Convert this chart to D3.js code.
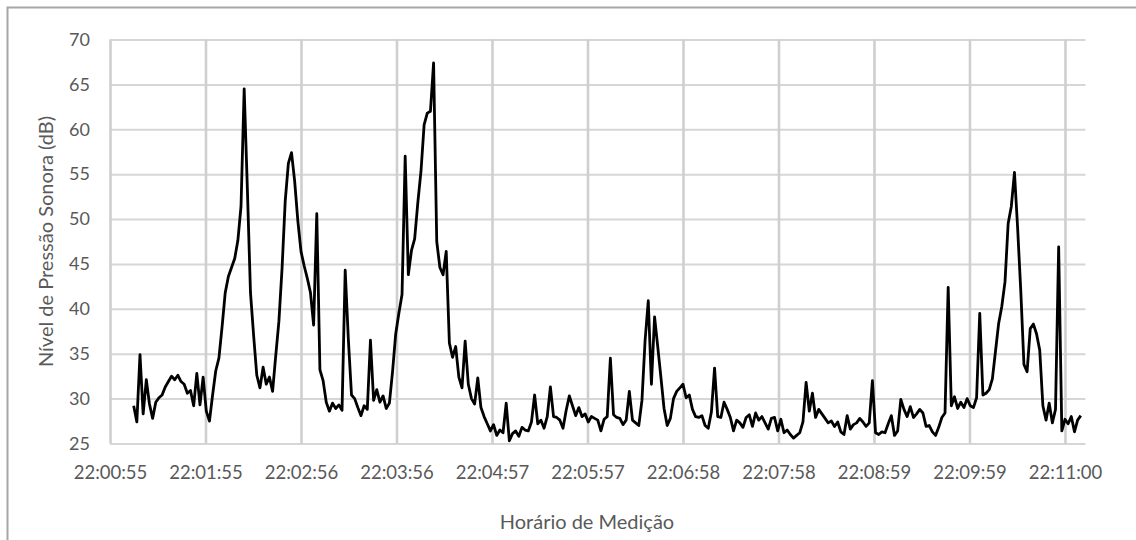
<!DOCTYPE html>
<html>
<head>
<meta charset="utf-8">
<script src="https://cdn.jsdelivr.net/npm/d3@7"></script>
<style>
  html, body { margin: 0; padding: 0; background: #fff; }
  svg { display: block; }
  text { font-family: Lato, "Open Sans", sans-serif; fill: #595959; }
</style>
</head>
<body>
<svg id="chart" width="1136" height="540"></svg>
<script>
// Sound pressure level readings, one every 2 s, starting 15 s after 22:00:55
const startClock = "22:00:55";
const firstOffsetSec = 15;
const sampleStepSec = 2;
const levelDb = [
  29.2, 27.4, 34.9, 28.3, 32.1, 29.4, 27.8, 29.6, 30.1, 30.4,
  31.3, 31.9, 32.5, 32.1, 32.6, 31.9, 31.6, 30.6, 30.9, 29.2,
  32.8, 29.3, 32.4, 28.6, 27.5, 30.4, 33.1, 34.5, 38.0, 41.8,
  43.6, 44.6, 45.6, 47.6, 51.4, 64.5, 53.5, 41.8, 37.0, 32.6,
  31.2, 33.5, 31.6, 32.4, 30.8, 34.8, 38.6, 44.5, 52.0, 56.2,
  57.4, 54.2, 49.8, 46.4, 44.8, 43.4, 41.8, 38.2, 50.6, 33.2,
  32.0, 29.6, 28.6, 29.5, 28.9, 29.3, 28.7, 44.3, 36.6, 30.4,
  30.0, 29.0, 28.1, 29.2, 28.8, 36.5, 29.8, 31.0, 29.6, 30.3,
  28.9, 29.5, 33.0, 37.2, 39.5, 41.6, 57.0, 43.8, 46.5, 47.8,
  51.8, 55.3, 60.5, 61.8, 62.0, 67.4, 47.5, 44.6, 43.8, 46.4,
  36.2, 34.6, 35.8, 32.4, 31.2, 36.4, 31.6, 30.0, 29.4, 32.3,
  29.0, 28.0, 27.2, 26.4, 27.1, 25.9, 26.5, 26.2, 29.5, 25.3,
  26.1, 26.4, 25.8, 26.8, 26.5, 26.4, 27.4, 30.4, 27.2, 27.6,
  26.7, 28.0, 31.3, 28.0, 27.9, 27.6, 26.7, 28.7, 30.3, 29.2,
  28.1, 29.0, 28.0, 28.3, 27.4, 28.0, 27.8, 27.6, 26.4, 27.7,
  28.0, 34.5, 28.2, 27.9, 27.8, 27.1, 27.6, 30.8, 27.6, 27.3,
  27.0, 29.8, 36.5, 40.9, 31.6, 39.1, 35.8, 32.4, 28.9, 27.0,
  27.8, 30.0, 30.8, 31.2, 31.6, 30.1, 30.4, 28.8, 28.0, 27.9,
  28.1, 27.0, 26.7, 28.5, 33.4, 28.0, 27.9, 29.6, 28.8, 27.9,
  26.4, 27.6, 27.3, 26.8, 27.9, 28.2, 26.9, 28.4, 27.6, 28.0,
  27.3, 26.6, 27.8, 27.9, 26.4, 27.7, 26.2, 26.5, 26.0, 25.6,
  25.9, 26.2, 27.4, 31.8, 28.6, 30.6, 27.9, 28.8, 28.3, 27.8,
  27.3, 27.5, 26.9, 27.4, 26.3, 26.0, 28.1, 26.6, 27.1, 27.3,
  27.8, 27.4, 26.9, 27.3, 32.0, 26.2, 26.0, 26.3, 26.2, 27.2,
  28.1, 25.9, 26.4, 29.9, 28.8, 28.0, 29.1, 27.9, 28.3, 28.8,
  28.4, 26.9, 27.0, 26.3, 25.9, 26.8, 27.9, 28.4, 42.4, 29.2,
  30.2, 28.9, 29.6, 29.0, 30.0, 29.2, 29.0, 30.1, 39.5, 30.4,
  30.6, 31.0, 32.2, 35.3, 38.4, 40.3, 43.0, 49.5, 51.4, 55.2,
  49.0, 42.0, 33.8, 33.0, 37.8, 38.3, 37.2, 35.4, 29.2, 27.6,
  29.5, 27.3, 28.8, 46.9, 26.4, 27.7, 27.2, 28.0, 26.3, 27.6, 28.1
];

// Category-axis labels (seconds after the start clock, and their text)
const xTickSeconds = [0, 60.5, 121, 181.5, 242, 302.5, 363, 423.5, 484, 544.5, 605];
const xTickLabels = ["22:00:55", "22:01:55", "22:02:56", "22:03:56", "22:04:57",
                     "22:05:57", "22:06:58", "22:07:58", "22:08:59", "22:09:59", "22:11:00"];
const yTicks = [25, 30, 35, 40, 45, 50, 55, 60, 65, 70];

const xTitle = "Horário de Medição";
const yTitle = "Nível de Pressão Sonora (dB)";

const series = levelDb.map((v, i) => ({ t: firstOffsetSec + i * sampleStepSec, v }));

const svg = d3.select("#chart");
const plot = { left: 110, right: 1085.5, top: 39.5, bottom: 443.5 };

const x = d3.scaleLinear().domain([0, 618]).range([plot.left, plot.right]);
const y = d3.scaleLinear().domain([25, 70]).range([plot.bottom, plot.top]);

// chart frame
svg.append("path")
  .attr("d", "M7.5,545 V7.5 H1145")
  .attr("fill", "none")
  .attr("stroke", "#a6a6a6")
  .attr("stroke-width", 2);

// horizontal gridlines + y labels
const yAxis = d3.axisLeft(y).tickValues(yTicks).tickSize(plot.left - plot.right).tickPadding(20)
  .tickFormat(d3.format("d"));
const gy = svg.append("g").attr("transform", `translate(${plot.left},0)`).call(yAxis);
gy.select(".domain").remove();
gy.selectAll(".tick line").attr("stroke", "#d6d6d6").attr("stroke-width", 2);
gy.selectAll(".tick text")
  .attr("font-size", 18).attr("fill", "#595959")
  .style("font-family", "Lato, 'Open Sans', sans-serif");

// vertical gridlines + x labels
const xAxis = d3.axisBottom(x).tickValues(xTickSeconds)
  .tickSize(plot.top - plot.bottom).tickPadding(18)
  .tickFormat((d, i) => xTickLabels[i]);
const gx = svg.append("g").attr("transform", `translate(0,${plot.bottom})`).call(xAxis);
gx.select(".domain").remove();
gx.selectAll(".tick line").attr("stroke", "#cfcfcf").attr("stroke-width", 2.6);
gx.selectAll(".tick text")
  .attr("font-size", 18.5).attr("fill", "#595959")
  .attr("y", 35).attr("dy", 0)
  .style("font-family", "Lato, 'Open Sans', sans-serif");
gx.selectAll(".tick line").attr("y2", plot.top - plot.bottom);

// level trace
const line = d3.line().x(d => x(d.t)).y(d => y(d.v));
svg.append("path")
  .datum(series)
  .attr("d", line)
  .attr("fill", "none")
  .attr("stroke", "#000")
  .attr("stroke-width", 2.8)
  .attr("stroke-linejoin", "round");

// axis titles
svg.append("text")
  .attr("x", 587).attr("y", 529)
  .attr("text-anchor", "middle")
  .attr("font-size", 20)
  .text(xTitle);

svg.append("text")
  .attr("transform", `translate(53,${(plot.top + plot.bottom) / 2}) rotate(-90)`)
  .attr("text-anchor", "middle")
  .attr("font-size", 20)
  .text(yTitle);
</script>
</body>
</html>
